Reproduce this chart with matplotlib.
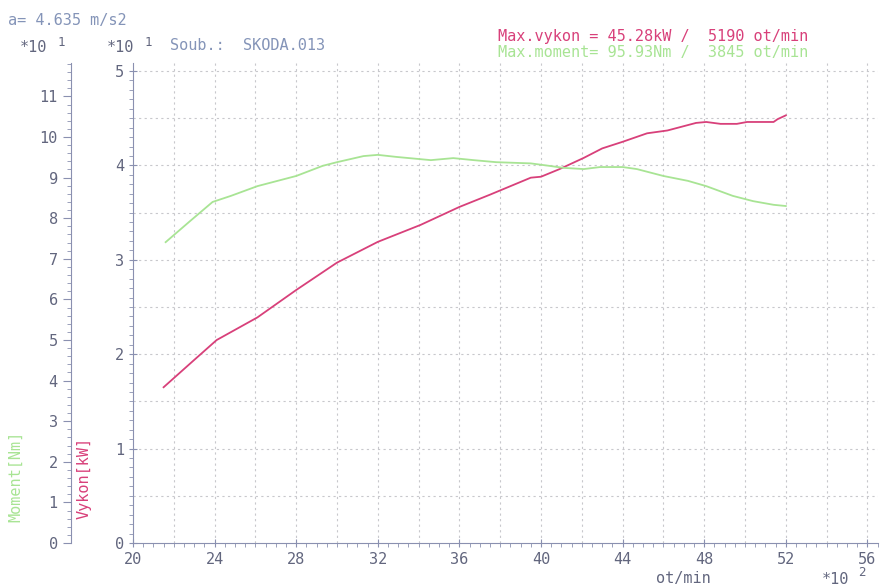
import matplotlib.pyplot as plt
from matplotlib.ticker import MultipleLocator, FuncFormatter

# power curve (pink), rpm / kW
power_rpm = [2150, 2290, 2410, 2610, 2800, 3000, 3200, 3410, 3600, 3750, 3950,
             4000, 4090, 4210, 4300, 4400, 4520, 4620, 4760, 4810, 4880, 4960,
             5010, 5140, 5160, 5200]
power_kw = [16.5, 19.2, 21.5, 23.9, 26.8, 29.7, 31.9, 33.7, 35.6, 36.9, 38.7,
            38.8, 39.6, 40.8, 41.8, 42.5, 43.4, 43.7, 44.5, 44.6, 44.4, 44.4,
            44.6, 44.6, 44.9, 45.3]

# torque curve (green), rpm / Nm
torque_rpm = [2160, 2280, 2390, 2480, 2610, 2800, 2930, 3000, 3130, 3200, 3290,
              3460, 3570, 3670, 3780, 3950, 4040, 4110, 4210, 4290, 4400, 4470,
              4600, 4720, 4810, 4940, 5040, 5140, 5200]
torque_nm = [74.1, 79.3, 84.0, 85.5, 87.9, 90.4, 92.9, 93.8, 95.3, 95.6, 95.1,
             94.3, 94.8, 94.3, 93.8, 93.5, 92.9, 92.4, 92.1, 92.6, 92.6, 92.1,
             90.4, 89.2, 87.9, 85.5, 84.2, 83.3, 83.0]

PINK = '#d8407a'
GREEN = '#a8e494'
AXC = '#8a90b0'
TXT = '#62667e'
MONO = 'DejaVu Sans Mono'

W, H = 882, 586
fig = plt.figure(figsize=(W / 100, H / 100), dpi=100)

def px(x, y):
    return x / W, 1 - y / H

left, right, top, bottom = 133, 878, 63, 543
ax = fig.add_axes([left / W, 1 - bottom / H, (right - left) / W, (bottom - top) / H])

ax.plot(power_rpm, [p / 10 for p in power_kw], color=PINK, lw=1.3, zorder=3)
ax.set_xlim(2000, 2000 + (right - left) / 0.204)
ax.set_ylim(0, (bottom - top) / 94.4)

ax.xaxis.set_major_locator(MultipleLocator(400))
ax.xaxis.set_minor_locator(MultipleLocator(50))
ax.xaxis.set_major_formatter(FuncFormatter(lambda v, p: f"{int(round(v / 100))}"))
ax.yaxis.set_major_locator(MultipleLocator(1))
ax.yaxis.set_minor_locator(MultipleLocator(0.1))

# grid: every 200 rpm and every 0.5 on power scale
for x in range(2200, 5700, 200):
    ax.axvline(x, color='#c8c8cc', lw=0.8, ls=(0, (2, 3)), zorder=1)
for k in range(1, 11):
    ax.axhline(k * 0.5, color='#c8c8cc', lw=0.8, ls=(0, (2, 3)), zorder=1)

for s in ['top', 'right']:
    ax.spines[s].set_visible(False)
for s in ['left', 'bottom']:
    ax.spines[s].set_color(AXC)
ax.tick_params(which='both', colors=AXC, labelcolor=TXT, labelsize=11)
ax.tick_params(which='major', length=6, direction='inout')
ax.tick_params(which='minor', length=3)
for lab in ax.get_xticklabels() + ax.get_yticklabels():
    lab.set_fontfamily(MONO)

# torque axis on the far left
ax2 = ax.twinx()
ax2.plot(torque_rpm, [t / 10 for t in torque_nm], color=GREEN, lw=1.3, zorder=3)
ax2.set_ylim(0, (bottom - top) / 40.6)
ax2.spines['left'].set_visible(True)
ax2.spines['left'].set_position(('axes', -(left - 71) / (right - left)))
ax2.spines['left'].set_color(AXC)
for s in ['top', 'right', 'bottom']:
    ax2.spines[s].set_visible(False)
ax2.yaxis.set_ticks_position('left')
ax2.yaxis.set_label_position('left')
ax2.yaxis.set_major_locator(MultipleLocator(1))
ax2.yaxis.set_minor_locator(MultipleLocator(0.2))
ax2.tick_params(which='both', colors=AXC, labelcolor=TXT, labelsize=11)
ax2.tick_params(which='major', length=6)
ax2.tick_params(which='minor', length=3)
for lab in ax2.get_yticklabels():
    lab.set_fontfamily(MONO)

# header and axis texts
def txt(x, y, s, color=TXT, size=11, **kw):
    fig.text(*px(x, y), s, color=color, fontsize=size, family=MONO,
             va='center', ha='left', **kw)

txt(8, 20, 'a= 4.635 m/s2', color='#8494b8')
txt(20, 48, '*10', color=TXT)
txt(58, 42, '1', color=TXT, size=9)
txt(107, 48, '*10', color=TXT)
txt(145, 42, '1', color=TXT, size=9)
txt(170, 45, 'Soub.:  SKODA.013', color='#8494b8')
txt(498, 37, 'Max.vykon = 45.28kW /  5190 ot/min', color=PINK)
txt(498, 52, 'Max.moment= 95.93Nm /  3845 ot/min', color=GREEN)
txt(656, 578, 'ot/min', color=TXT)
txt(822, 579, '*10', color=TXT)
txt(858, 572, '2', color=TXT, size=9)

fig.text(*px(84, 478), 'Vykon[kW]', color=PINK, fontsize=11, family=MONO,
         rotation=90, ha='center', va='center')
fig.text(*px(16, 476), 'Moment[Nm]', color=GREEN, fontsize=11, family=MONO,
         rotation=90, ha='center', va='center')

fig.savefig('out.png', dpi=100)
